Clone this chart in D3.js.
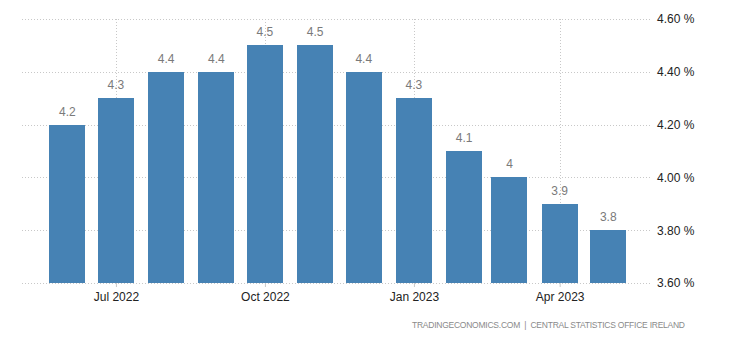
<!DOCTYPE html>
<html>
<head>
<meta charset="utf-8">
<script src="https://cdn.jsdelivr.net/npm/d3@7"></script>
<style>
  html, body { margin: 0; padding: 0; background: #fff; }
  svg { display: block; }
</style>
</head>
<body>
<svg id="chart" width="730" height="340"></svg>
<script>
// Monthly rate, Jun 2022 – May 2023
const months = ["2022-06", "2022-07", "2022-08", "2022-09", "2022-10", "2022-11",
                "2022-12", "2023-01", "2023-02", "2023-03", "2023-04", "2023-05"];
const values = [4.2, 4.3, 4.4, 4.4, 4.5, 4.5, 4.4, 4.3, 4.1, 4, 3.9, 3.8];
const yTicks = [3.6, 3.8, 4.0, 4.2, 4.4, 4.6];
const xTicks = ["2022-07", "2022-10", "2023-01", "2023-04"];
const sourceText = "TRADINGECONOMICS.COM  |  CENTRAL STATISTICS OFFICE IRELAND";

(function () {
  const parse = d3.utcParse("%Y-%m");
  const data = months.map((m, i) => ({ date: parse(m), value: values[i] }));

  const svg = d3.select("#chart");
  const plotL = 22, plotR = 652, plotT = 19, plotB = 283;

  const x = d3.scaleUtc()
    .domain([new Date(Date.UTC(2022, 4, 4)), new Date(Date.UTC(2023, 4, 28))])
    .range([plotL, plotR]);
  const y = d3.scaleLinear().domain([3.6, 4.6]).range([plotB, plotT]);

  const fontFam = "Arial, 'Liberation Sans', sans-serif";

  // horizontal grid
  svg.append("g").selectAll("line").data(yTicks).join("line")
    .attr("x1", plotL).attr("x2", plotR)
    .attr("y1", d => Math.round(y(d)) + 0.5).attr("y2", d => Math.round(y(d)) + 0.5)
    .attr("stroke", "#c8c8c8").attr("stroke-dasharray", "1,2");

  // vertical grid at quarter ticks
  svg.append("g").selectAll("line").data(xTicks.map(parse)).join("line")
    .attr("x1", d => Math.round(x(d)) + 0.5).attr("x2", d => Math.round(x(d)) + 0.5)
    .attr("y1", plotT).attr("y2", plotB)
    .attr("stroke", "#c8c8c8").attr("stroke-dasharray", "1,2");

  // bars, centered on the month start
  const barW = 36;
  svg.append("g").selectAll("rect").data(data).join("rect")
    .attr("x", d => Math.round(x(d.date) - barW / 2))
    .attr("width", barW)
    .attr("y", d => Math.round(y(d.value)))
    .attr("height", d => plotB - Math.round(y(d.value)))
    .attr("fill", "#4682b4");

  // value labels
  svg.append("g").selectAll("text").data(data).join("text")
    .attr("x", d => x(d.date))
    .attr("y", d => y(d.value) - 9)
    .attr("text-anchor", "middle")
    .attr("font-family", fontFam).attr("font-size", 12)
    .attr("fill", "#7a7a7a")
    .text(d => d3.format("")(d.value));

  // y axis on the right
  const yAxis = d3.axisRight(y).tickValues(yTicks).tickSize(0).tickPadding(0)
    .tickFormat(d => d3.format(".2f")(d) + " %");
  const gy = svg.append("g").attr("transform", `translate(${plotR + 5},0)`).call(yAxis);
  gy.select(".domain").remove();
  gy.selectAll("text").attr("font-family", fontFam).attr("font-size", 12)
    .attr("fill", "#222");

  // x axis
  const xAxis = d3.axisBottom(x).tickValues(xTicks.map(parse)).tickSize(4).tickPadding(5)
    .tickFormat(d3.utcFormat("%b %Y"));
  const gx = svg.append("g").attr("transform", `translate(0,${plotB})`).call(xAxis);
  gx.select(".domain").remove();
  gx.selectAll("line").attr("stroke", "#c8c8c8");
  gx.selectAll("text").attr("font-family", fontFam).attr("font-size", 12).attr("fill", "#222");

  // source line
  svg.append("text")
    .attr("x", 412).attr("y", 328)
    .attr("font-family", fontFam).attr("font-size", 8.5)
    .attr("fill", "#8a8a8a")
    .attr("textLength", 273).attr("lengthAdjust", "spacing")
    .style("white-space", "pre")
    .text(sourceText);
})();
</script>
</body>
</html>
